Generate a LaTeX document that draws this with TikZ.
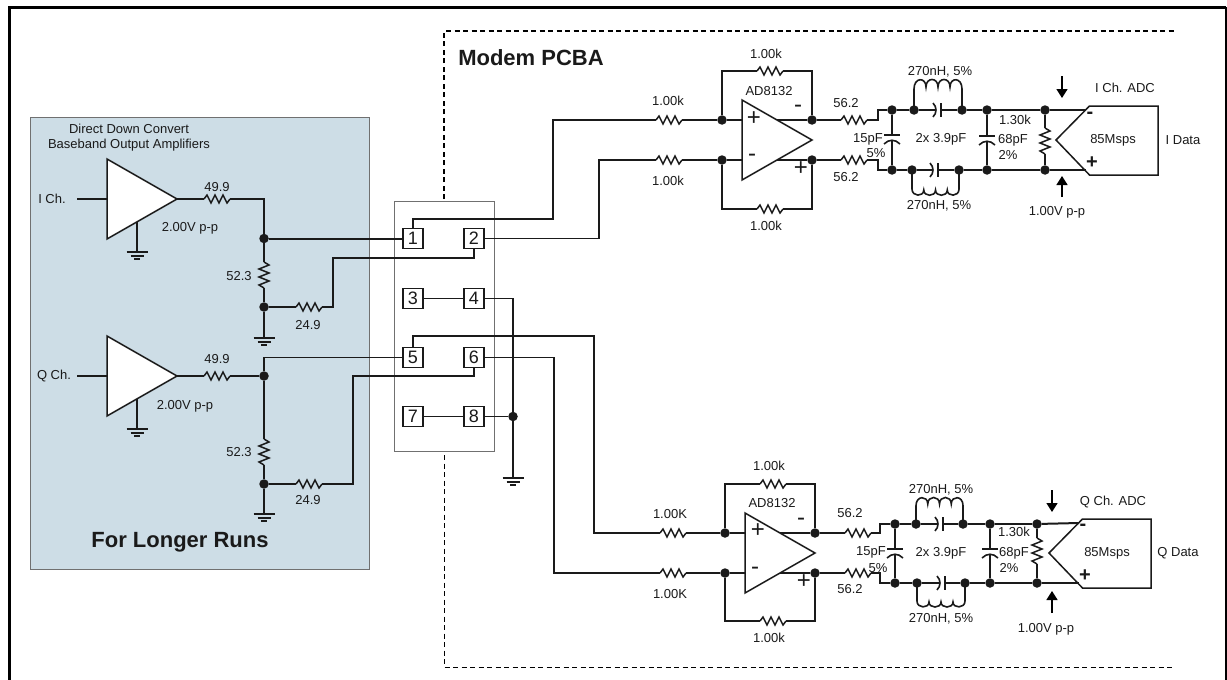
\documentclass[tikz,border=0pt]{standalone}
\usepackage{fontspec}
\setmainfont{Liberation Sans}
\usetikzlibrary{arrows.meta, positioning}
\definecolor{panelblue}{HTML}{CDDDE6}
\definecolor{ink}{HTML}{1A1A1A}
\definecolor{boxgray}{HTML}{707070}
\tikzset{
    wire/.style={draw=ink, line width=2pt},
    thinwire/.style={draw=ink, line width=1.3pt},
    sense/.style={draw=black, line width=1.5pt, -{Triangle[width=11pt,length=9pt]}},
    frontier/.style={draw=black, line width=1.3pt, dash pattern=on 5pt off 3.5pt},
    junct/.style={circle, fill=ink, inner sep=0pt, minimum size=9.5pt},
    pinbox/.style={rectangle, draw=ink, line width=1.4pt, fill=white, inner sep=0pt, outer sep=0pt,
        minimum size=20pt, font=\fontsize{18}{18}\selectfont, text=ink},
    lbl/.style={inner sep=0pt, font=\fontsize{13}{13}\selectfont, text=ink, align=center},
    sign/.style={inner sep=0pt, font=\fontsize{24}{24}\selectfont, text=ink},
    heading/.style={inner sep=0pt, font=\fontsize{22}{22}\selectfont\bfseries, text=ink},
    resh/.pic={
        \draw[thinwire, line width=1.5pt] (-13,0) -- (-10,-4) -- (-6,4) -- (-2,-4) -- (2,4) -- (6,-4) -- (10,4) -- (13,0);
        \coordinate (-l) at (-13,0);
        \coordinate (-r) at (13,0);
    },
    resv/.pic={
        \draw[thinwire, line width=1.5pt] (0,-13) -- (5,-10) -- (-5,-6) -- (5,-2) -- (-5,2) -- (5,6) -- (-5,10) -- (0,13);
        \coordinate (-t) at (0,-13);
        \coordinate (-b) at (0,13);
    },
    caph/.pic={
        \draw[thinwire, line width=1.6pt] (-5,-7) .. controls (-1,-3) and (-1,3) .. (-5,7);
        \draw[wire] (3,-7) -- (3,7);
        \coordinate (-l) at (-2,0);
        \coordinate (-r) at (3,0);
    },
    capv/.pic={
        \draw[wire] (-8,-3) -- (8,-3);
        \draw[thinwire, line width=1.6pt] (-8,6) .. controls (-3,1) and (3,1) .. (8,6);
        \coordinate (-t) at (0,-3);
        \coordinate (-b) at (0,2);
    },
    indup/.pic={
        \draw[wire, line width=1.6pt] (0,0) -- (0,-21) .. controls (0,-33) and (12,-33) .. (12,-23)
            .. controls (12,-33) and (24,-33) .. (24,-23)
            .. controls (24,-33) and (36,-33) .. (36,-23)
            .. controls (36,-33) and (48,-33) .. (48,-21) -- (48,0);
    },
    inddown/.pic={
        \draw[wire, line width=1.6pt] (0,0) -- (0,19) .. controls (0,27) and (12,27) .. (12,20)
            .. controls (12,27) and (24,27) .. (24,20)
            .. controls (24,27) and (36,27) .. (36,20)
            .. controls (36,27) and (48,27) .. (48,19) -- (48,0);
    },
    gnd/.pic={
        \draw[wire] (-10.5,0) -- (10.5,0);
        \draw[wire] (-6.5,3.5) -- (6.5,3.5);
        \draw[wire] (-3,7) -- (3,7);
        \coordinate (-top) at (0,0);
    },
    amp/.pic={
        \draw[thinwire, line width=1.5pt, fill=white] (0,-40) -- (70,0) -- (0,40) -- cycle;
        \coordinate (-in) at (0,0);
        \coordinate (-ip) at (0,-20);
        \coordinate (-im) at (0,20);
        \coordinate (-out) at (70,0);
        \coordinate (-op) at (35,-20);
        \coordinate (-om) at (35,20);
        \coordinate (-ref) at (30,23);
    },
    adc/.pic={
        \draw[thinwire, line width=1.5pt, fill=white] (0,0) -- (33.5,-34) -- (102,-34) -- (102,35) -- (33.5,35) -- cycle;
        \coordinate (-m) at (30,-30);
        \coordinate (-p) at (30,30);
    }
}
\begin{document}
\begin{tikzpicture}[x=1pt, y=-1pt]
\useasboundingbox (0,0) rectangle (1227,680);

% Outer frame
\draw[black, line width=3pt] (9.5,680) -- (9.5,7) -- (1226,7);
\draw[black, line width=2pt] (1226,7) -- (1226,680);

% Modem board outline
\draw[frontier] (444,199) -- (444,31) -- (1174,31);
\draw[frontier, line width=1pt] (444,455) -- (444,667) -- (1172,667);
\node[heading] (modem) at (531,58) {Modem PCBA};

% Amplifier panel
\draw[boxgray, line width=1pt, fill=panelblue] (30,117) rectangle (369,569);
\node[lbl] (title) at (129,137.5) {Direct Down Convert\\[1.5pt]Baseband Output Amplifiers};
\node[heading] (runs) at (180,542) {For Longer Runs};

% Connector
\draw[boxgray, line width=1pt] (394,201) rectangle (494,451);
\node[pinbox] (p1) at (413,238.5) {1};
\node[pinbox, right=41pt of p1] (p2) {2};
\node[pinbox, below=40pt of p1] (p3) {3};
\node[pinbox, right=41pt of p3] (p4) {4};
\node[pinbox, below=39pt of p3] (p5) {5};
\node[pinbox, right=41pt of p5] (p6) {6};
\node[pinbox, below=39pt of p5] (p7) {7};
\node[pinbox, right=41pt of p7] (p8) {8};

% I channel driver
\pic (ampi) at (107,199) {amp};
\coordinate (ini) at (77,199);
\node[lbl] (ichl) at (52,199) {I Ch.};
\pic (gndi) at (137,252) {gnd};
\pic (ri1) at (217,199) {resh};
\node[lbl] (ri1l) at (217,187) {49.9};
\node[lbl] (vi) at (190,228) {2.00V p-p};
\node[junct] (ji1) at (264,238.5) {};
\pic (ri2) at (264,275) {resv};
\node[lbl] (ri2l) at (239,276) {52.3};
\node[junct] (ji2) at (264,307) {};
\pic (ri3) at (309,307) {resh};
\node[lbl] (ri3l) at (308,325) {24.9};
\pic (gndi2) at (264,338) {gnd};
\coordinate (ci1) at (333,258);

% Q channel driver
\pic (ampq) at (107,376) {amp};
\coordinate (inq) at (77,376);
\node[lbl] (qchl) at (54,376) {Q Ch.};
\pic (gndq) at (137,429) {gnd};
\pic (rq1) at (217,376) {resh};
\node[lbl] (rq1l) at (217,359) {49.9};
\node[lbl] (vq) at (185,406) {2.00V p-p};
\node[junct] (jq1) at (264,376) {};
\pic (rq2) at (264,452) {resv};
\node[lbl] (rq2l) at (239,452) {52.3};
\node[junct] (jq2) at (264,484) {};
\pic (rq3) at (309,484) {resh};
\node[lbl] (rq3l) at (308,500) {24.9};
\pic (gndq2) at (264,514) {gnd};
\coordinate (cq1) at (353,376);

% Driver connections
\draw[wire] (ini) -- (ampi-in);
\draw[wire] (ampi-ref) -- (gndi-top);
\draw[wire] (ampi-out) -- (ri1-l);
\draw[wire] (ri1-r) -| (ji1);
\draw[wire] (ji1) -- (p1);
\draw[wire] (ji1) -- (ri2-t);
\draw[wire] (ri2-b) -- (ji2);
\draw[wire] (ji2) -- (ri3-l);
\draw[wire] (ji2) -- (gndi2-top);
\draw[thinwire] (ri3-r) -| (ci1) -| (p2.south);
\draw[wire] (inq) -- (ampq-in);
\draw[wire] (ampq-ref) -- (gndq-top);
\draw[wire] (ampq-out) -- (rq1-l);
\draw[wire] (rq1-r) -- (jq1);
\draw[thinwire] (jq1) |- (p5);
\draw[wire] (jq1) -- (rq2-t);
\draw[wire] (rq2-b) -- (jq2);
\draw[wire] (jq2) -- (rq3-l);
\draw[wire] (jq2) -- (gndq2-top);
\draw[thinwire] (rq3-r) -| (cq1) -| (p6.south);

% Strapped pins and ground
\node[junct] (jg) at (513,416.5) {};
\pic (gndc) at (513,478) {gnd};
\draw[thinwire] (p3) -- (p4);
\draw[thinwire] (p7) -- (p8);
\draw[thinwire] (p8) -- (jg);
\draw[thinwire] (p4) -| (jg);
\draw[thinwire] (jg) -- (gndc-top);

% I channel receiver
\coordinate (ti1) at (553,219);
\coordinate (ti2) at (599,238.5);
\pic (rp1) at (669,120) {resh};
\node[lbl] (rp1l) at (668,101) {1.00k};
\pic (rp2) at (669,160) {resh};
\node[lbl] (rp2l) at (668,181) {1.00k};
\node[junct] (ja1) at (722,120) {};
\node[junct] (ja2) at (722,160) {};
\pic (u1) at (742,140) {amp};
\node[lbl] (u1l) at (769,91) {AD8132};
\node[sign] at (754,119) {+};
\node[sign] at (752,158) {-};
\node[sign] at (798,109) {-};
\node[sign] at (801,169) {+};
\node[junct] (ja3) at (812,120) {};
\node[junct] (ja4) at (812,160) {};
\pic (rf1) at (770,71) {resh};
\node[lbl] (rf1l) at (766,54) {1.00k};
\pic (rf2) at (770,209) {resh};
\node[lbl] (rf2l) at (766,226) {1.00k};
\pic (rs1) at (854,120) {resh};
\node[lbl] (rs1l) at (846,103) {56.2};
\pic (rs2) at (854,160) {resh};
\node[lbl] (rs2l) at (846,177) {56.2};
\coordinate (st1) at (878,110);
\coordinate (st2) at (878,170);
\node[junct] (jb1) at (892,110) {};
\node[junct] (jb2) at (892,170) {};
\pic (c1) at (892,138) {capv};
\node[lbl] (c1a) at (868,139) {15pF};
\node[lbl] (c1b) at (876,153) {5\%};
\node[junct] (jc1) at (914,110) {};
\node[junct] (jc2) at (962,110) {};
\node[junct] (jc3) at (912,170) {};
\node[junct] (jc4) at (959,170) {};
\pic at (914,110) {indup};
\pic[xscale=0.98] at (912,170) {inddown};
\pic (c2) at (938,110) {caph};
\pic (c3) at (935,170) {caph};
\node[lbl] (l1l) at (940,72) {270nH, 5\%};
\node[lbl] (l2l) at (939,206) {270nH, 5\%};
\node[lbl] (c2l) at (941,139) {2x 3.9pF};
\node[junct] (jd1) at (987,110) {};
\node[junct] (jd2) at (987,170) {};
\pic (c4) at (987,139) {capv};
\node[lbl] (r4l) at (1015,120) {1.30k};
\node[lbl] (c4a) at (1013,140) {68pF};
\node[lbl] (c4b) at (1008,155) {2\%};
\node[junct] (je1) at (1045,110) {};
\node[junct] (je2) at (1045,170) {};
\pic (r4) at (1045,141) {resv};
\pic (adci) at (1056,140) {adc};
\node[sign, font=\fontsize{20}{20}\selectfont\bfseries] at (1090,115) {-};
\node[sign, font=\fontsize{20}{20}\selectfont\bfseries] at (1092,163) {+};
\node[lbl] (adcil) at (1125,88) {I Ch. ADC};
\node[lbl] (rate1) at (1113,140) {85Msps};
\node[lbl] (idata) at (1183,140) {I Data};
\coordinate (ar1) at (1062,76);
\coordinate (ar2) at (1062,98);
\coordinate (ar3) at (1062,197);
\coordinate (ar4) at (1062,176);
\node[lbl] (vpi) at (1057,212) {1.00V p-p};

% I channel connections
\draw[thinwire] (p1.north) |- (ti1) |- (rp1-l);
\draw[thinwire] (p2) -- (ti2) |- (rp2-l);
\draw[wire] (rp1-r) -- (ja1);
\draw[wire] (rp2-r) -- (ja2);
\draw[wire] (ja1) -- (u1-ip);
\draw[wire] (ja2) -- (u1-im);
\draw[wire] (u1-op) -- (ja3);
\draw[wire] (u1-om) -- (ja4);
\draw[thinwire] (ja1) |- (rf1-l);
\draw[thinwire] (rf1-r) -| (ja3);
\draw[thinwire] (ja2) |- (rf2-l);
\draw[thinwire] (rf2-r) -| (ja4);
\draw[wire] (ja3) -- (rs1-l);
\draw[wire] (ja4) -- (rs2-l);
\draw[thinwire] (rs1-r) -| (st1) -- (jb1);
\draw[thinwire] (rs2-r) -| (st2) -- (jb2);
\draw[wire] (jb1) -- (c1-t);
\draw[wire] (c1-b) -- (jb2);
\draw[wire] (jb1) -- (jc1);
\draw[wire] (jb2) -- (jc3);
\draw[wire] (jc1) -- (c2-l);
\draw[wire] (c2-r) -- (jc2);
\draw[wire] (jc3) -- (c3-l);
\draw[wire] (c3-r) -- (jc4);
\draw[wire] (jc2) -- (jd1);
\draw[wire] (jc4) -- (jd2);
\draw[wire] (jd1) -- (c4-t);
\draw[wire] (c4-b) -- (jd2);
\draw[wire] (jd1) -- (je1);
\draw[wire] (jd2) -- (je2);
\draw[thinwire] (je1) -- (r4-t);
\draw[thinwire] (r4-b) -- (je2);
\draw[wire] (je1) -- (adci-m);
\draw[wire] (je2) -- (adci-p);
\draw[sense] (ar1) -- (ar2);
\draw[sense] (ar3) -- (ar4);

% Q channel receiver
\coordinate (tq1) at (594,336);
\coordinate (tq2) at (554,357.5);
\pic (rp3) at (673,533) {resh};
\node[lbl] (rp3l) at (670,514) {1.00K};
\pic (rp4) at (673,573) {resh};
\node[lbl] (rp4l) at (670,594) {1.00K};
\node[junct] (ja5) at (725,533) {};
\node[junct] (ja6) at (725,573) {};
\pic (u2) at (745,553) {amp};
\node[lbl] (u2l) at (772,503) {AD8132};
\node[sign] at (758,531) {+};
\node[sign] at (755,571) {-};
\node[sign] at (801,522) {-};
\node[sign] at (804,582) {+};
\node[junct] (ja7) at (815,533) {};
\node[junct] (ja8) at (815,573) {};
\pic (rf3) at (773,484) {resh};
\node[lbl] (rf3l) at (769,466) {1.00k};
\pic (rf4) at (773,621) {resh};
\node[lbl] (rf4l) at (769,638) {1.00k};
\pic (rs3) at (858,533) {resh};
\node[lbl] (rs3l) at (850,513) {56.2};
\pic (rs4) at (858,573) {resh};
\node[lbl] (rs4l) at (850,589) {56.2};
\coordinate (st3) at (880,524);
\coordinate (st4) at (880,583);
\node[junct] (jb3) at (895,524) {};
\node[junct] (jb4) at (895,583) {};
\pic (c5) at (895,552) {capv};
\node[lbl] (c5a) at (871,552) {15pF};
\node[lbl] (c5b) at (878,568) {5\%};
\node[junct] (jc5) at (916,524) {};
\node[junct] (jc6) at (963,524) {};
\node[junct] (jc7) at (917,583) {};
\node[junct] (jc8) at (965,583) {};
\pic[xscale=0.98, yscale=0.87] at (916,524) {indup};
\pic[yscale=0.95] at (917,583) {inddown};
\pic (c6) at (940,524) {caph};
\pic (c7) at (942,583) {caph};
\node[lbl] (l3l) at (941,490) {270nH, 5\%};
\node[lbl] (l4l) at (941,619) {270nH, 5\%};
\node[lbl] (c6l) at (941,553) {2x 3.9pF};
\node[junct] (jd3) at (990,524) {};
\node[junct] (jd4) at (990,583) {};
\pic (c8) at (990,552) {capv};
\node[lbl] (r8l) at (1014,532) {1.30k};
\node[lbl] (c8a) at (1014,553) {68pF};
\node[lbl] (c8b) at (1009,568) {2\%};
\node[junct] (je3) at (1037,524) {};
\node[junct] (je4) at (1037,583) {};
\pic (r8) at (1037,551) {resv};
\pic (adcq) at (1049,553) {adc};
\node[sign, font=\fontsize{20}{20}\selectfont\bfseries] at (1083,527) {-};
\node[sign, font=\fontsize{20}{20}\selectfont\bfseries] at (1085,576) {+};
\node[lbl] (adcql) at (1113,502) {Q Ch. ADC};
\node[lbl] (rate2) at (1107,553) {85Msps};
\node[lbl] (qdata) at (1178,553) {Q Data};
\coordinate (ar5) at (1052,490);
\coordinate (ar6) at (1052,512);
\coordinate (ar7) at (1052,613);
\coordinate (ar8) at (1052,591);
\node[lbl] (vpq) at (1046,629) {1.00V p-p};

% Q channel connections
\draw[thinwire] (p5.north) |- (tq1) |- (rp3-l);
\draw[thinwire] (p6) -- (tq2) |- (rp4-l);
\draw[wire] (rp3-r) -- (ja5);
\draw[wire] (rp4-r) -- (ja6);
\draw[wire] (ja5) -- (u2-ip);
\draw[wire] (ja6) -- (u2-im);
\draw[wire] (u2-op) -- (ja7);
\draw[wire] (u2-om) -- (ja8);
\draw[thinwire] (ja5) |- (rf3-l);
\draw[thinwire] (rf3-r) -| (ja7);
\draw[thinwire] (ja6) |- (rf4-l);
\draw[thinwire] (rf4-r) -| (ja8);
\draw[wire] (ja7) -- (rs3-l);
\draw[wire] (ja8) -- (rs4-l);
\draw[thinwire] (rs3-r) -| (st3) -- (jb3);
\draw[thinwire] (rs4-r) -| (st4) -- (jb4);
\draw[wire] (jb3) -- (c5-t);
\draw[wire] (c5-b) -- (jb4);
\draw[wire] (jb3) -- (jc5);
\draw[wire] (jb4) -- (jc7);
\draw[wire] (jc5) -- (c6-l);
\draw[wire] (c6-r) -- (jc6);
\draw[wire] (jc7) -- (c7-l);
\draw[wire] (c7-r) -- (jc8);
\draw[wire] (jc6) -- (jd3);
\draw[wire] (jc8) -- (jd4);
\draw[wire] (jd3) -- (c8-t);
\draw[wire] (c8-b) -- (jd4);
\draw[wire] (jd3) -- (je3);
\draw[wire] (jd4) -- (je4);
\draw[thinwire] (je3) -- (r8-t);
\draw[thinwire] (r8-b) -- (je4);
\draw[wire] (je3) -- (adcq-m);
\draw[wire] (je4) -- (adcq-p);
\draw[sense] (ar5) -- (ar6);
\draw[sense] (ar7) -- (ar8);

\end{tikzpicture}
\end{document}
